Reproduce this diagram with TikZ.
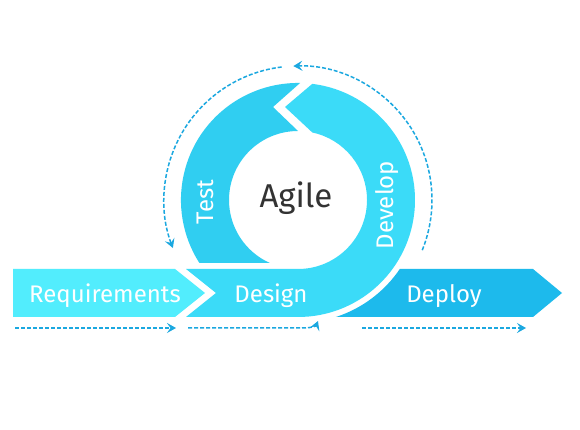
\documentclass[tikz,border=0pt]{standalone}
\usepackage{fontspec}
\setmainfont{Fira Sans}
\usetikzlibrary{arrows.meta}
\definecolor{reqc}{HTML}{52EDFD}
\definecolor{desc}{HTML}{3BDBF8}
\definecolor{testc}{HTML}{30CEF1}
\definecolor{depc}{HTML}{1DBAEC}
\definecolor{dashc}{HTML}{1BA8E0}
\definecolor{agilec}{HTML}{333333}
\begin{document}
\begin{tikzpicture}[x=1pt,y=1pt,
  dashline/.style={draw=dashc, line width=1.5pt, dash pattern=on 4pt off 2pt,
    -{Stealth[length=9pt,width=10pt,inset=3.5pt]}},
  barlabel/.style={text=white, anchor=base, font=\fontsize{24}{28}\selectfont, inner sep=0pt},
  ringlabel/.style={barlabel, rotate=90}]
\useasboundingbox (0,0) rectangle (580,430);
\fill[white] (0,0) rectangle (580,430);
\coordinate (C) at (298,230);
% Requirements
\fill[reqc] (13,113) -- (13,161) -- (175,161) -- (205,137) -- (175,113) -- cycle;
% Design + Develop
\fill[desc] (186,161) -- (298,161) arc[start angle=-90, end angle=78, radius=69pt]
  -- (285,323) -- ([shift={(298,230)}]83:117)
  arc[start angle=83, end angle=-90, radius=117pt] -- (186,113) -- (216,137) -- cycle;
% Test
\fill[testc] ([shift={(298,230)}]89:117) -- (273,323) -- ([shift={(298,230)}]90:69)
  arc[start angle=90, end angle=245.9, radius=69pt] -- (199.4,167)
  arc[start angle=212.6, end angle=89, radius=117pt] -- cycle;
% Deploy
\fill[depc] (335.9,113) arc[start angle=-72.05, end angle=-34.13, radius=123pt]
  -- (533,161) -- (562,137) -- (533,113) -- cycle;
% labels
\node[barlabel] (req) at (105,127) {Requirements};
\node[barlabel] (des) at (271,127) {Design};
\node[barlabel] (dep) at (444,127) {Deploy};
\node[ringlabel] (tst) at (213,228) {Test};
\node[ringlabel] (dev) at (393,225) {Develop};
\node[anchor=base, text=agilec, font=\fontsize{33}{38}\selectfont, inner sep=0pt] (agile) at (296,222) {Agile};
% dashed arcs
\coordinate (a1s) at ([shift={(298,230)}]-22:134);
\coordinate (a2s) at ([shift={(298,230)}]97:134);
\draw[dashline] (a1s) arc[start angle=-22, end angle=92, radius=134pt];
\draw[dashline] (a2s) arc[start angle=97, end angle=201, radius=134pt];
% bottom dashed arrows
\coordinate (b1s) at (15,102);
\coordinate (b1e) at (176,102);
\coordinate (b2s) at (188,102);
\coordinate (b2m) at (302,102);
\coordinate (b2e) at (318,109);
\coordinate (b3s) at (362,102);
\coordinate (b3e) at (526,102);
\draw[dashline] (b1s) -- (b1e);
\draw[dashline] (b2s) -- (b2m) .. controls (312,102) and (316,104) .. (b2e);
\draw[dashline] (b3s) -- (b3e);
\end{tikzpicture}
\end{document}
